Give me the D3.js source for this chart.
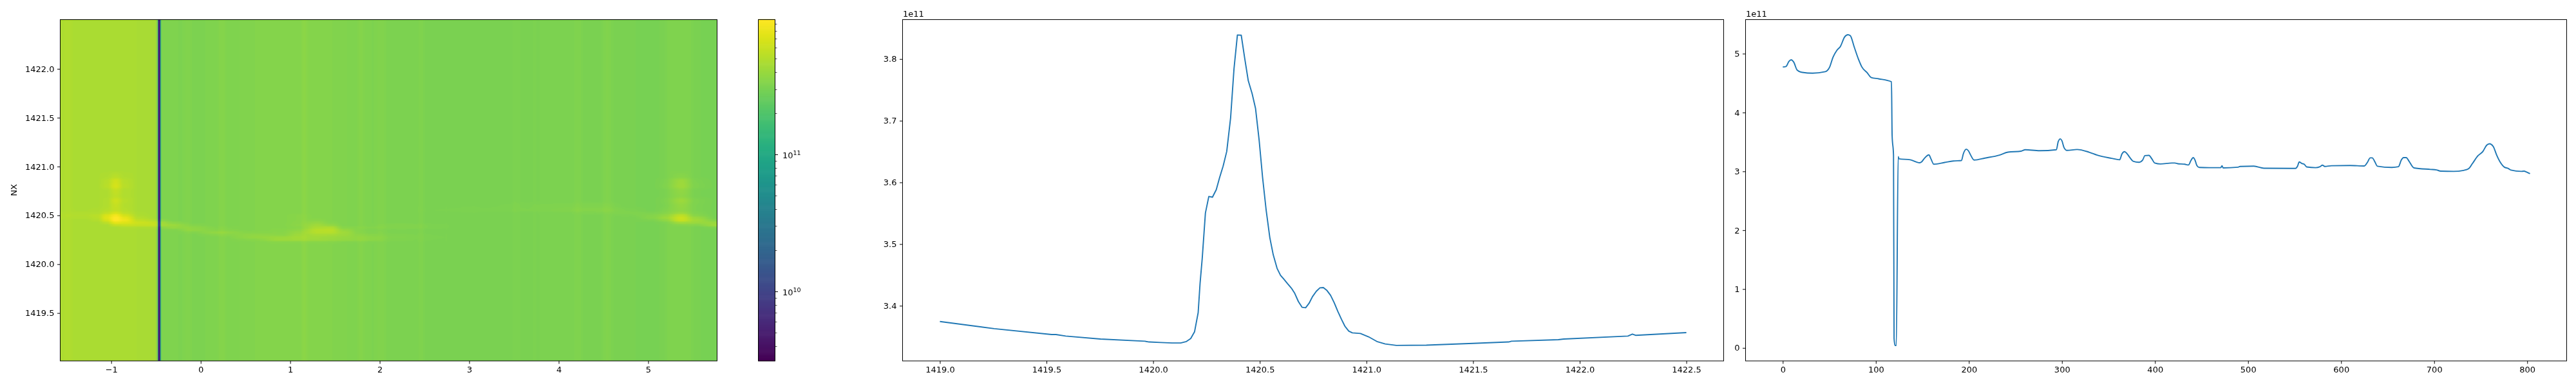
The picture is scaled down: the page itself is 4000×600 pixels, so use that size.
<!DOCTYPE html>
<html>
<head>
<meta charset="utf-8">
<script src="https://cdn.jsdelivr.net/npm/d3@7"></script>
<style>
html,body{margin:0;padding:0;background:#fff;width:4000px;height:600px;overflow:hidden}
canvas,svg{position:absolute;left:0;top:0}
text{font-family:"DejaVu Sans",sans-serif;fill:#000}
</style>
</head>
<body>
<canvas id="heat"></canvas>
<svg id="chart" width="4000" height="600"></svg>
<script>
// ---------- data ----------
const rowNX = [1419,1419.255,1419.524,1419.544,1419.59,1419.753,1419.961,1419.981,1420.035,1420.089,1420.129,1420.156,1420.176,1420.194,1420.211,1420.22,1420.23,1420.245,1420.261,1420.278,1420.296,1420.312,1420.328,1420.345,1420.363,1420.379,1420.395,1420.413,1420.429,1420.446,1420.464,1420.48,1420.497,1420.513,1420.53,1420.547,1420.563,1420.581,1420.597,1420.614,1420.63,1420.648,1420.664,1420.681,1420.698,1420.715,1420.731,1420.747,1420.765,1420.782,1420.798,1420.815,1420.832,1420.849,1420.866,1420.883,1420.899,1420.917,1420.934,1420.972,1421.01,1421.049,1421.088,1421.14,1421.281,1421.5,1421.667,1421.68,1421.9,1421.925,1422.226,1422.247,1422.262,1422.5];
const rowValue = [3.3745,3.3629,3.3533,3.3533,3.3509,3.3461,3.3425,3.3413,3.3405,3.3397,3.3397,3.3421,3.3469,3.3577,3.3888,3.4367,3.4766,3.5504,3.5772,3.576,3.5883,3.6083,3.6263,3.6502,3.7041,3.7839,3.839,3.8386,3.8018,3.7647,3.744,3.72,3.6682,3.6083,3.5544,3.5105,3.4826,3.4607,3.4495,3.4427,3.4359,3.4287,3.42,3.4068,3.3976,3.3968,3.404,3.4148,3.4235,3.4291,3.4295,3.4247,3.4168,3.4048,3.3908,3.378,3.3669,3.3589,3.3561,3.355,3.3497,3.3421,3.3381,3.3358,3.3361,3.339,3.3413,3.3425,3.345,3.3461,3.3509,3.3541,3.3521,3.3565];

const colIndex = [0,3.4,6.5,9,11.7,15.5,21,32,45.7,50.4,54,58,62,66.5,70,72.6,76.7,81.3,85,90.6,95.2,103,116.8,117.5,119,119.6,120.6,122,124,125,137,147,149.3,151.8,157,159.2,162.3,174,183.3,192,194,197.2,199.4,201.9,205.6,217.3,232.8,242,256,260.6,276,294,296,298.3,300,302.3,305.4,316.2,329.2,337.9,353.3,362,364.5,367.2,369.4,373.4,376.5,382.7,386.7,389.2,393.5,396.6,399.7,405.9,418.2,421.3,424.4,432,436,438.6,441,443,445,447.6,458.4,470.7,472,473.2,489.3,491.4,506.2,517,551,553.2,555,557.8,560.3,563,572.6,577.3,580,582.5,589.6,609.7,625,628.2,631.3,633.5,636,639,654.5,661.6,664.7,667.1,670,673,678.3,696.2,702.4,707,720.9,731.7,737,741,747,752.4,756.4,759.5,763.5,767.2,771.2,775.5,779.6,782.6,793.5,796.5,799.6,803];
const colValue = [4.774,4.782,4.866,4.895,4.858,4.72,4.682,4.669,4.695,4.774,4.941,5.054,5.126,5.285,5.322,5.305,5.117,4.908,4.774,4.678,4.594,4.573,4.523,3.61,3.276,0.159,0.042,0.042,3.251,3.213,3.197,3.146,3.163,3.213,3.28,3.213,3.121,3.151,3.176,3.184,3.297,3.377,3.351,3.276,3.192,3.226,3.276,3.326,3.343,3.368,3.351,3.368,3.506,3.552,3.519,3.402,3.356,3.372,3.326,3.276,3.222,3.197,3.297,3.335,3.31,3.226,3.172,3.155,3.192,3.268,3.272,3.213,3.142,3.126,3.142,3.142,3.13,3.121,3.109,3.184,3.234,3.192,3.1,3.067,3.063,3.063,3.096,3.059,3.071,3.084,3.088,3.054,3.05,3.088,3.159,3.134,3.121,3.075,3.063,3.079,3.105,3.084,3.096,3.1,3.092,3.151,3.23,3.23,3.172,3.088,3.067,3.079,3.192,3.234,3.234,3.172,3.059,3.033,3.025,3.004,3,3.017,3.046,3.13,3.264,3.339,3.444,3.469,3.423,3.276,3.151,3.071,3.05,3.021,3,3.004,2.987,2.962];

// heat-map background: the column level, held down where a bright spot lifts the column mean
const spotZoneStart = [48,738];
const spotZoneEnd = [88,774];
const spotZoneCap = [4.72,3.22];

// extra brightness on top of the background, in units of 1e11
const ridgeX = [-1.57,-1.3,-1.15,-1.05,-.95,-.85,-.7,-.47,-.3,-.1,.2,.6,.9,1.1,1.3,1.45,1.6,1.8,2.2,3,3.7,4.5,4.8,5.05,5.2,5.37,5.52,5.77];
const ridgeY = [1420.95,1420.9,1420.85,1420.8,1420.75,1420.7,1420.65,1420.6,1420.55,1420.525,1420.5,1420.475,1420.45,1420.425,1420.4,1420.375,1420.35,1420.325,1420.3,1420.275,1420.25,1420.225,1420.2];
const ridgeRows = [
 [0,0,0,0,.1,0,0,0,0,0,0,0,0,0,0,0,0,0,0,0,0,0,0,0,0,.05,0,0],
 [0,0,0,.1,.5,.1,0,0,0,0,0,0,0,0,0,0,0,0,0,0,0,0,0,0,0,.2,0,0],
 [0,0,0,.4,1.7,.4,0,0,0,0,0,0,0,0,0,0,0,0,0,0,0,0,0,0,.1,.9,.1,0],
 [0,0,0,.5,2,.5,0,0,0,0,0,0,0,0,0,0,0,0,0,0,0,0,0,0,.15,1,.15,0],
 [0,0,0,.1,1,.2,0,0,0,0,0,0,0,0,0,0,0,0,0,0,0,0,0,0,0,.5,0,0],
 [0,0,0,.1,.8,.2,0,0,0,0,0,0,0,0,0,0,0,0,0,0,0,0,0,0,0,.4,0,0],
 [0,0,0,.2,1.5,.4,0,0,0,0,0,0,0,0,0,0,0,0,0,0,0,0,0,0,.1,.9,.15,0],
 [0,0,0,.2,1.1,.3,0,0,0,0,0,0,0,0,0,0,0,0,0,0,.08,.15,0,0,.05,.6,.1,0],
 [0,.05,.1,.4,1,.4,0,0,0,0,0,0,0,0,0,0,0,0,0,.05,.1,.3,.1,0,.15,.5,.1,0],
 [.1,.2,.2,.9,2,.8,.1,0,0,0,0,0,0,0,0,0,0,0,0,0,0,.1,.2,.15,.3,.9,.2,0],
 [.2,.3,.6,2.2,4,1.8,.2,0,0,0,0,0,0,.1,0,0,0,0,0,0,0,0,.1,.35,.7,2.2,.4,0],
 [.15,.2,.5,2.6,5,3,.5,0,0,0,0,0,0,.1,0,0,0,0,0,0,0,0,0,.4,1,2.9,1,0],
 [0,0,.3,2,5,3.6,1,.4,0,0,0,0,0,.1,.15,0,0,0,0,0,0,0,0,.15,.6,2.8,1.3,.3],
 [0,0,0,.7,3,2.6,1.6,1.2,.4,0,0,0,0,.15,.5,.1,0,0,0,0,0,0,0,0,.1,1.1,1,1],
 [0,0,0,0,1,1.2,1.2,1.3,.9,.2,0,0,0,.2,.9,.5,0,0,.15,0,0,0,0,0,0,.2,.3,1.2],
 [0,0,0,0,0,.2,.2,.3,.7,.5,.1,0,0,.1,1.3,1.5,.2,.15,.15,0,0,0,0,0,0,0,0,.2],
 [0,0,0,0,0,0,0,0,.1,.6,.2,0,.05,.3,1.8,2,.7,.05,0,0,0,0,0,0,0,0,0,0],
 [0,0,0,0,0,0,0,0,0,.15,.6,.1,.1,.6,1.7,1.8,1,.1,0,0,0,0,0,0,0,0,0,0],
 [0,0,0,0,0,0,0,0,0,0,.25,.4,.2,.8,1.2,1.2,.9,.3,.05,0,0,0,0,0,0,0,0,0],
 [0,0,0,0,0,0,0,0,0,0,0,.5,.7,1,.9,.8,.7,.5,.1,0,0,0,0,0,0,0,0,0],
 [0,0,0,0,0,0,0,0,0,0,0,.15,.8,.9,.8,.7,.6,.5,.05,0,0,0,0,0,0,0,0,0],
 [0,0,0,0,0,0,0,0,0,0,0,0,.1,.1,.1,.1,.05,.05,0,0,0,0,0,0,0,0,0,0],
 [0,0,0,0,0,0,0,0,0,0,0,0,0,0,0,0,0,0,0,0,0,0,0,0,0,0,0,0]
];

const heatXTicks = [-1,0,1,2,3,4,5];
const heatYTicks = [1419.5,1420,1420.5,1421,1421.5,1422];
const rowXTicks = [1419,1419.5,1420,1420.5,1421,1421.5,1422,1422.5];
const rowYTicks = [3.4,3.5,3.6,3.7,3.8];
const colXTicks = [0,100,200,300,400,500,600,700,800];
const colYTicks = [0,1,2,3,4,5];
const barMajor = [1e10,1e11];
const barMinor = [4e9,5e9,6e9,7e9,8e9,9e9,2e10,3e10,4e10,5e10,6e10,7e10,8e10,9e10,2e11,3e11,4e11,5e11,6e11,7e11,8e11,9e11];
const yLabel = "NX";
const offsetLabel = "1e11";

// ---------- layout ----------
const plotTop = 30, plotBottom = 561;
const heatBox = {l:93.5, r:1113.5};
const barBox = {l:1177.5, r:1203.5};
const rowBox = {l:1401.5, r:2676.5};
const colBox = {l:2710.5, r:3985.5};
const tickLen = 4.5, tickPad = 4.5, fontPx = 13;
const svg = d3.select("#chart");

function drawAxes(box, x, y, xt, yt, xf, yf){
  const g = svg.append("g");
  const ax = d3.axisBottom(x).tickValues(xt).tickSize(tickLen).tickPadding(tickPad).tickFormat(xf);
  const ay = d3.axisLeft(y).tickValues(yt).tickSize(tickLen).tickPadding(tickPad).tickFormat(yf);
  const a = g.append("g").attr("transform",`translate(0,${plotBottom})`).call(ax);
  const b = g.append("g").attr("transform",`translate(${box.l},0)`).call(ay);
  [a,b].forEach(s=>{
    s.select(".domain").remove();
    s.attr("font-family",null).attr("font-size",null);
    s.selectAll("text").attr("font-size",fontPx).style("font-family",'"DejaVu Sans",sans-serif');
    s.selectAll("line").attr("stroke","#000").attr("stroke-width",1);
  });
  return g;
}
function drawFrame(box){
  svg.append("rect").attr("x",box.l).attr("y",plotTop+.5).attr("width",box.r-box.l).attr("height",plotBottom-plotTop-.5)
    .attr("fill","none").attr("stroke","#000").attr("stroke-width",1);
}

// ---------- heat map ----------
const heatX = d3.scaleLinear().domain([-1.57,5.77]).range([heatBox.l,heatBox.r]);
const heatY = d3.scaleLinear().domain([1419.01,1422.507]).range([plotBottom,plotTop]);
const colorLog = d3.scaleLog().domain([3.11e9,9.7e11]).range([0,1]).clamp(true);
const level = d3.scaleLinear().domain(colIndex).range(colValue).clamp(true);
const xToIndex = d3.scaleLinear().domain(heatX.domain()).range([0,803]);
const ridgeCol = d3.scaleLinear().domain(ridgeX).range(ridgeX.map((d,i)=>i)).clamp(true);
const ridgeRow = d3.scaleLinear().domain(ridgeY.slice().reverse()).range(ridgeY.map((d,i)=>ridgeY.length-1-i)).clamp(true);

function excess(xv,yv){
  if(yv>1420.95||yv<1420.2) return 0;
  const cf=ridgeCol(xv), rf=ridgeRow(yv);
  const c0=Math.min(Math.floor(cf),ridgeX.length-2), r0=Math.min(Math.floor(rf),ridgeY.length-2);
  const u=cf-c0, v=rf-r0;
  const sm=t=>t*t*(3-2*t);
  const us=sm(u), vs=sm(v);
  return (ridgeRows[r0][c0]*(1-us)+ridgeRows[r0][c0+1]*us)*(1-vs)+(ridgeRows[r0+1][c0]*(1-us)+ridgeRows[r0+1][c0+1]*us)*vs;
}
const cv = document.getElementById("heat");
const W = Math.floor(heatBox.r-heatBox.l), H = plotBottom-plotTop;
cv.width=W; cv.height=H;
cv.style.left=(heatBox.l+.5)+"px"; cv.style.top=plotTop+"px";
const ctx = cv.getContext("2d");
const img = ctx.createImageData(W,H);
const baseByCol = d3.range(W).map(px=>{
  const idx = xToIndex(heatX.invert(heatBox.l+.5+px+.5));
  let v = level(idx);
  spotZoneStart.forEach((s,k)=>{ if(idx>=s && idx<=spotZoneEnd[k]) v=Math.min(v,spotZoneCap[k]); });
  return v;
});
for(let j=0;j<H;j++){
  const yv = heatY.invert(plotTop+j+.5);
  for(let i=0;i<W;i++){
    const base = baseByCol[i];
    const xv = heatX.invert(heatBox.l+.5+i+.5);
    const val = (base + excess(xv,yv)*Math.min(1,base/3))*1e11;
    const c = d3.rgb(d3.interpolateViridis(colorLog(val)));
    const o=(j*W+i)*4;
    img.data[o]=c.r; img.data[o+1]=c.g; img.data[o+2]=c.b; img.data[o+3]=255;
  }
}
ctx.putImageData(img,0,0);
drawAxes(heatBox,heatX,heatY,heatXTicks,heatYTicks,d3.format("d"),d3.format(".1f"));
drawFrame(heatBox);
svg.append("text").attr("transform",`translate(25.5,${(plotTop+plotBottom)/2}) rotate(-90)`)
  .attr("text-anchor","middle").attr("font-size",fontPx).text(yLabel);

// ---------- colour bar ----------
const barY = d3.scaleLog().domain(colorLog.domain()).range([plotBottom,plotTop]);
svg.append("g").selectAll("rect").data(d3.range(256)).join("rect")
  .attr("x",barBox.l).attr("width",barBox.r-barBox.l)
  .attr("y",d=>plotBottom-(d+1)*(plotBottom-plotTop)/256-.3)
  .attr("height",(plotBottom-plotTop)/256+.6)
  .attr("fill",d=>d3.interpolateViridis(d/255));
svg.append("g").selectAll("line").data(barMinor).join("line")
  .attr("x1",barBox.r).attr("x2",barBox.r+3)
  .attr("y1",d=>Math.round(barY(d))+.5).attr("y2",d=>Math.round(barY(d))+.5)
  .attr("stroke","#000").attr("stroke-width",.7);
const majors = svg.append("g").selectAll("g").data(barMajor).join("g")
  .attr("transform",d=>`translate(${barBox.r},${Math.round(barY(d))+.5})`);
majors.append("line").attr("x2",tickLen).attr("stroke","#000").attr("stroke-width",1);
const lab = majors.append("text").attr("x",11.5).attr("y",5).attr("font-size",fontPx);
lab.append("tspan").text("10");
lab.append("tspan").attr("dy",-5).attr("font-size",9.5).text(d=>Math.round(Math.log10(d)));
drawFrame(barBox);

// ---------- row profile ----------
const rowX = d3.scaleLinear().domain([1418.825,1422.675]).range([rowBox.l,rowBox.r]);
const rowY = d3.scaleLinear().domain([3.3106,3.8644]).range([plotBottom,plotTop]);
const lineStyle = s=>s.attr("fill","none").attr("stroke","#1f77b4").attr("stroke-width",1.9).attr("stroke-linejoin","round");
svg.append("path").datum(rowNX.map((d,i)=>[d,rowValue[i]])).call(lineStyle)
  .attr("d",d3.line().x(d=>rowX(d[0])).y(d=>rowY(d[1])));
drawAxes(rowBox,rowX,rowY,rowXTicks,rowYTicks,d3.format(".1f"),d3.format(".1f"));
drawFrame(rowBox);
svg.append("text").attr("x",rowBox.l+.5).attr("y",26).attr("font-size",fontPx).text(offsetLabel);

// ---------- column profile ----------
const colX = d3.scaleLinear().domain([-40,842.4]).range([colBox.l,colBox.r]);
const colY = d3.scaleLinear().domain([-.221,5.584]).range([plotBottom,plotTop]);
svg.append("path").datum(colIndex.map((d,i)=>[d,colValue[i]])).call(lineStyle)
  .attr("d",d3.line().curve(d3.curveMonotoneX).x(d=>colX(d[0])).y(d=>colY(d[1])));
drawAxes(colBox,colX,colY,colXTicks,colYTicks,d3.format("d"),d3.format("d"));
drawFrame(colBox);
svg.append("text").attr("x",colBox.l+.5).attr("y",26).attr("font-size",fontPx).text(offsetLabel);
</script>
</body>
</html>
